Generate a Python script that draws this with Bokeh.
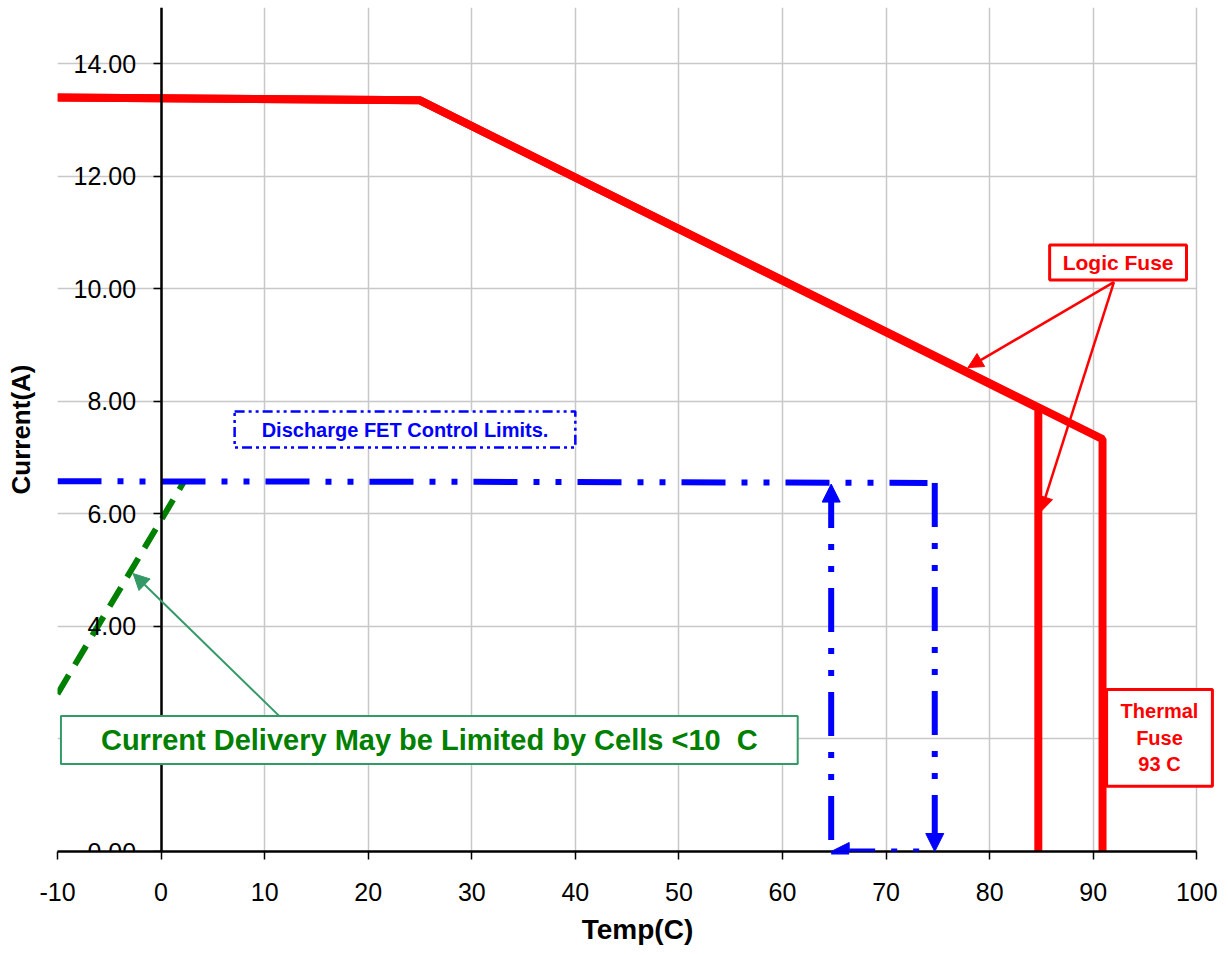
from bokeh.plotting import figure
from bokeh.models import Range1d, FixedTicker, Label, Arrow, NormalHead, LinearAxis
from bokeh.embed import file_html
from bokeh.resources import INLINE

# ---------------- data ----------------
x_ticks = [-10, 0, 10, 20, 30, 40, 50, 60, 70, 80, 90, 100]
x_tick_labels = ["-10", "0", "10", "20", "30", "40", "50", "60", "70", "80", "90", "100"]
y_ticks = [0, 2, 4, 6, 8, 10, 12, 14]
y_tick_labels = ["0.00", "2.00", "4.00", "6.00", "8.00", "10.00", "12.00", "14.00"]

logic_fuse_x = [-10, 25, 84.7, 84.7]
logic_fuse_y = [13.40, 13.35, 7.88, 0.0]
thermal_fuse_x = [-10, 25, 90.9, 90.9]
thermal_fuse_y = [13.40, 13.35, 7.33, 0.0]
fet_limit_x = [-10, 30, 74.0]
fet_limit_y = [6.58, 6.57, 6.55]
fet_loop_x = [74.7, 74.7, 64.7, 64.7]
fet_loop_y = [6.55, 0.0, 0.0, 6.53]
cell_limit_x = [-10, 2.2]
cell_limit_y = [2.8, 6.57]

FONT = "Liberation Sans"
BLUE_DASH = "44 16 6 16 6 16"

p = figure(width=1225, height=947, x_range=Range1d(-10, 102), y_range=Range1d(0, 15),
           output_backend="svg", toolbar_location=None,
           min_border_left=57, min_border_right=8, min_border_top=7, min_border_bottom=93)
p.outline_line_color = None
p.background_fill_color = "white"
p.border_fill_color = "white"

# grids
p.xgrid.ticker = FixedTicker(ticks=x_ticks)
p.ygrid.ticker = FixedTicker(ticks=y_ticks)
p.ygrid[0].cross_bounds = (-10, 100)
for g in (p.xgrid[0], p.ygrid[0]):
    g.grid_line_color = "#c8c8c8"
    g.grid_line_width = 1.5

# x axis
xa = p.xaxis[0]
xa.bounds = (-10, 100)
xa.ticker = FixedTicker(ticks=x_ticks)
xa.major_label_overrides = dict(zip(x_ticks, x_tick_labels))
xa.axis_line_color = "black"
xa.axis_line_width = 2.5
xa.major_tick_line_color = "black"
xa.major_tick_line_width = 1.5
xa.major_tick_in = 0
xa.major_tick_out = 8
xa.minor_tick_out = 0
xa.major_label_standoff = 23
xa.major_label_text_font = FONT
xa.major_label_text_font_size = "25px"
xa.major_label_text_color = "black"
xa.axis_label = "Temp(C)"
xa.axis_label_text_font = FONT
xa.axis_label_text_font_size = "28px"
xa.axis_label_text_font_style = "bold"
xa.axis_label_text_color = "black"
xa.axis_label_standoff = 10

# y axis placed at x = 0
ya = p.yaxis[0]
ya.fixed_location = 0
ya.ticker = FixedTicker(ticks=y_ticks)
ya.major_label_overrides = dict(zip(y_ticks, y_tick_labels))
ya.axis_line_color = "black"
ya.axis_line_width = 2.5
ya.major_tick_line_color = "black"
ya.major_tick_line_width = 1.5
ya.major_tick_in = 0
ya.major_tick_out = 8
ya.minor_tick_out = 0
ya.major_label_standoff = 17
ya.major_label_text_font = FONT
ya.major_label_text_font_size = "25px"
ya.major_label_text_color = "black"

# y axis title holder at the plot's left edge
ytitle = LinearAxis(ticker=FixedTicker(ticks=[]), axis_label="Current(A)",
                    axis_line_color=None, major_tick_line_color=None, minor_tick_line_color=None,
                    major_label_text_font_size="0px", major_tick_out=0, minor_tick_out=0,
                    major_label_standoff=0,
                    axis_label_text_font=FONT, axis_label_text_font_size="26px",
                    axis_label_text_font_style="bold", axis_label_text_color="black",
                    axis_label_standoff=22)
p.add_layout(ytitle, "left")

# series
p.line(cell_limit_x, cell_limit_y, line_color="#008000", line_width=6, line_dash="22 12")
p.line(fet_limit_x, fet_limit_y, line_color="blue", line_width=6, line_dash=BLUE_DASH)
p.line(thermal_fuse_x, thermal_fuse_y, line_color="red", line_width=8)
p.line(logic_fuse_x, logic_fuse_y, line_color="red", line_width=8)

# blue control loop arrows: down the right side, back along the bottom, up the left side
def blue_head():
    return NormalHead(size=18, fill_color="blue", line_color="blue", line_width=1)

p.add_layout(Arrow(end=blue_head(),
                   x_start=fet_loop_x[0], y_start=fet_loop_y[0],
                   x_end=fet_loop_x[1], y_end=fet_loop_y[1],
                   line_color="blue", line_width=6, line_dash=BLUE_DASH))
# the next two are stroked from their arrow tip, as in the original drawing
p.add_layout(Arrow(start=blue_head(), end=None,
                   x_start=fet_loop_x[2], y_start=fet_loop_y[2],
                   x_end=fet_loop_x[1], y_end=fet_loop_y[1],
                   line_color="blue", line_width=6, line_dash=BLUE_DASH))
p.add_layout(Arrow(start=blue_head(), end=None,
                   x_start=fet_loop_x[3], y_start=fet_loop_y[3],
                   x_end=fet_loop_x[2], y_end=fet_loop_y[2],
                   line_color="blue", line_width=6, line_dash=BLUE_DASH))

# callout arrows
p.add_layout(Arrow(end=NormalHead(size=15, fill_color="red", line_color="red", line_width=1),
                   x_start=92.0, y_start=10.12, x_end=77.9, y_end=8.60,
                   line_color="red", line_width=2.5))
p.add_layout(Arrow(end=NormalHead(size=15, fill_color="red", line_color="red", line_width=1),
                   x_start=92.0, y_start=10.12, x_end=84.94, y_end=6.04,
                   line_color="red", line_width=2.5))
p.add_layout(Arrow(end=NormalHead(size=16, fill_color="#339966", line_color="#339966", line_width=1),
                   x_start=11.4, y_start=2.41, x_end=-2.7, y_end=4.94,
                   line_color="#339966", line_width=2))

# text boxes (padding given as (horizontal, vertical))
p.add_layout(Label(x=23.55, y=7.50, text="Discharge FET Control Limits.",
                   text_align="center", text_baseline="middle", text_color="blue",
                   text_font=FONT, text_font_size="20px", text_font_style="bold",
                   border_line_color="blue", border_line_width=2.5, border_line_dash="10 4 3 4 3 4",
                   background_fill_color="white", padding=(27, 7)))
p.add_layout(Label(x=25.9, y=1.98, text="Current Delivery May be Limited by Cells <10\u00a0 C",
                   text_align="center", text_baseline="middle", text_color="#008000",
                   text_font=FONT, text_font_size="29px", text_font_style="bold",
                   border_line_color="#339966", border_line_width=2,
                   background_fill_color="white", padding=(40, 8)))
p.add_layout(Label(x=92.4, y=10.47, text="Logic Fuse",
                   text_align="center", text_baseline="middle", text_color="red",
                   text_font=FONT, text_font_size="21px", text_font_style="bold",
                   border_line_color="red", border_line_width=3,
                   background_fill_color="white", padding=(13, 6)))
p.add_layout(Label(x=96.4, y=2.02, text="Thermal\nFuse\n93 C",
                   text_align="center", text_baseline="middle", text_color="red",
                   text_font=FONT, text_font_size="20px", text_font_style="bold",
                   border_line_color="red", border_line_width=3,
                   background_fill_color="white", padding=(14, 11)))

open("out.html", "w").write(file_html(p, INLINE))
